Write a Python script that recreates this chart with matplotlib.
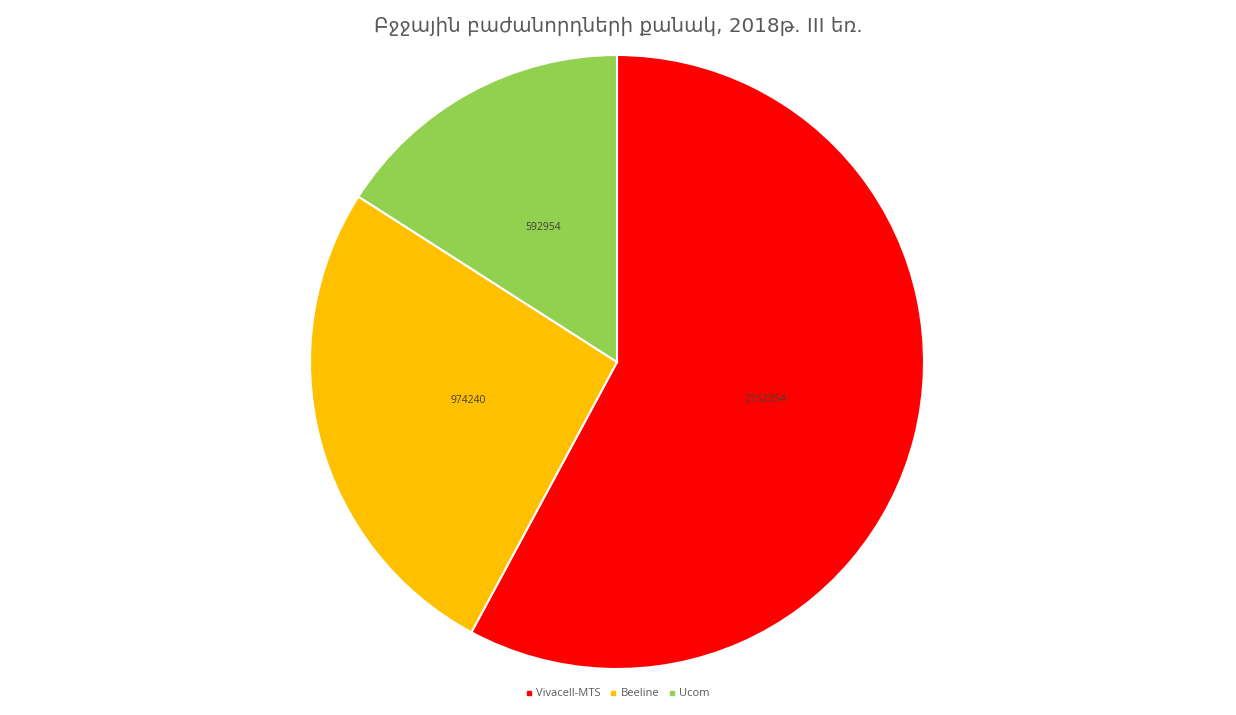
import matplotlib.pyplot as plt
from matplotlib.lines import Line2D

operators = ["Vivacell-MTS", "Beeline", "Ucom"]
subscribers = [2152354, 974240, 592954]
colors = ["#FF0000", "#FFC000", "#92D050"]
title = "Բջջային բաժանորդների քանակ, 2018թ. III եռ."

fig = plt.figure(figsize=(12.36, 7.15), dpi=100)
# pie area: center ~(617,362), radius ~307 px
ax = fig.add_axes([310 / 1236, 46 / 715, 614 / 1236, 614 / 715])

vals = iter(subscribers)
wedges, texts, autotexts = ax.pie(
	subscribers,
	colors=colors,
	startangle=90,
	counterclock=False,
	autopct=lambda p: str(next(vals)),
	pctdistance=0.5,
	wedgeprops=dict(edgecolor="white", linewidth=1.5),
	textprops=dict(fontsize=7.5, color="#404040", family=["Open Sans", "DejaVu Sans"]),
)
ax.set_aspect("equal")
ax.set_xlim(-1, 1)
ax.set_ylim(-1, 1)

fig.text(0.5, 0.963, title, ha="center", va="center", fontsize=14.3,
	color="#595959", family=["DejaVu Sans"])

handles = [Line2D([], [], marker="s", linestyle="", markersize=3.5,
	markerfacecolor=c, markeredgecolor=c) for c in colors]
fig.legend(handles, operators, loc="center", bbox_to_anchor=(0.5, 1 - 694 / 715),
	ncol=3, frameon=False, handlelength=0.5, handletextpad=0.4, columnspacing=0.9,
	prop=dict(size=8, family=["Open Sans", "DejaVu Sans"]), labelcolor="#595959")

fig.savefig("out.png", dpi=100)
